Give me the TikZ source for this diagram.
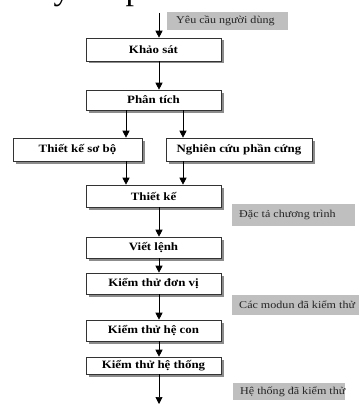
\documentclass[tikz,border=0pt]{standalone}
\usepackage{fontspec}
\setmainfont{Liberation Serif}
\newfontfamily\wideserif[FakeStretch=1.15,BoldFeatures={FakeStretch=1.15}]{Liberation Serif}
\usetikzlibrary{shadows,arrows.meta}
\begin{document}
\begin{tikzpicture}[x=1pt,y=-1pt,
  stage/.style={draw=black!80, line width=0.6pt, fill=white, inner sep=0pt,
    font=\wideserif\fontsize{11.2}{13}\selectfont\bfseries,
    drop shadow={shadow xshift=2.5pt, shadow yshift=-2.5pt, fill=black!45, opacity=1}},
  note/.style={fill=black!25, inner sep=0pt, anchor=north west,
    font=\wideserif\fontsize{10.5}{12}\selectfont, text=black!85},
  flow/.style={draw=black, line width=0.7pt, -{Triangle[length=7pt,width=7pt]}},
  heading/.style={font=\fontsize{34}{40}\selectfont, anchor=base, inner sep=0pt}]
\useasboundingbox (0,0) rectangle (359,404);
\fill[white] (0,0) rectangle (359,404);

% fragments of the page heading above the chart
\node[heading] (hy) at (62,0) {y};
\node[heading] (hp) at (134,0) {p};

% main column of stages
\coordinate (trunk) at (159,0);
\coordinate (left) at (126,0);
\coordinate (right) at (183,0);
\coordinate (entry) at (159,13);
\coordinate (exit) at (159,404);

\node[stage, minimum width=135pt, minimum height=23pt] (khaosat) at (153.5,49.5) {Khảo sát};
\node[stage, minimum width=135pt, minimum height=20pt] (phantich) at (153.5,100) {Phân tích};
\node[stage, minimum width=129pt, minimum height=23pt] (tksb) at (77.5,149.5) {Thiết kế sơ bộ};
\node[stage, minimum width=146pt, minimum height=23pt] (ncpc) at (239,149.5) {Nghiên cứu phần cứng};
\node[stage, minimum width=135pt, minimum height=22pt] (thietke) at (153.5,196) {Thiết kế};
\node[stage, minimum width=135pt, minimum height=21pt] (vietlenh) at (153.5,247.5) {Viết lệnh};
\node[stage, minimum width=135pt, minimum height=21pt] (ktdv) at (153.5,283.5) {Kiểm thử đơn vị};
\node[stage, minimum width=135pt, minimum height=21pt] (kthc) at (153.5,330.5) {Kiểm thử hệ con};
\node[stage, minimum width=135pt, minimum height=17pt] (ktht) at (153.5,365.5) {Kiểm thử hệ thống};

% grey notes beside the flow
\node[note, minimum height=18pt] (yeucau) at (167,12) {\makebox[121pt][l]{\hspace*{9pt}Yêu cầu người dùng}};
\node[note, minimum height=22pt] (dacta) at (232,204) {\makebox[123pt][l]{\hspace*{7pt}Đặc tả chương trình}};
\node[note, minimum height=20pt] (modun) at (232,295) {\makebox[127pt][l]{\hspace*{7pt}Các modun đã kiểm thử}};
\node[note, minimum height=17pt] (hethong) at (233,383) {\makebox[112pt][l]{\hspace*{7pt}Hệ thống đã kiểm thử}};

% connectors
\draw[flow] (entry) -- (khaosat.north -| trunk);
\draw[flow] (khaosat.south -| trunk) -- (phantich.north -| trunk);
\draw[flow] (phantich.south -| left) -- (tksb.north -| left);
\draw[flow] (phantich.south -| right) -- (ncpc.north -| right);
\draw[flow] (tksb.south -| left) -- (thietke.north -| left);
\draw[flow] (ncpc.south -| right) -- (thietke.north -| right);
\draw[flow] (thietke.south -| trunk) -- (vietlenh.north -| trunk);
\draw[flow] (vietlenh.south -| trunk) -- (ktdv.north -| trunk);
\draw[flow] (ktdv.south -| trunk) -- (kthc.north -| trunk);
\draw[flow] (kthc.south -| trunk) -- (ktht.north -| trunk);
\draw[flow] (ktht.south -| trunk) -- (exit);
\end{tikzpicture}
\end{document}
